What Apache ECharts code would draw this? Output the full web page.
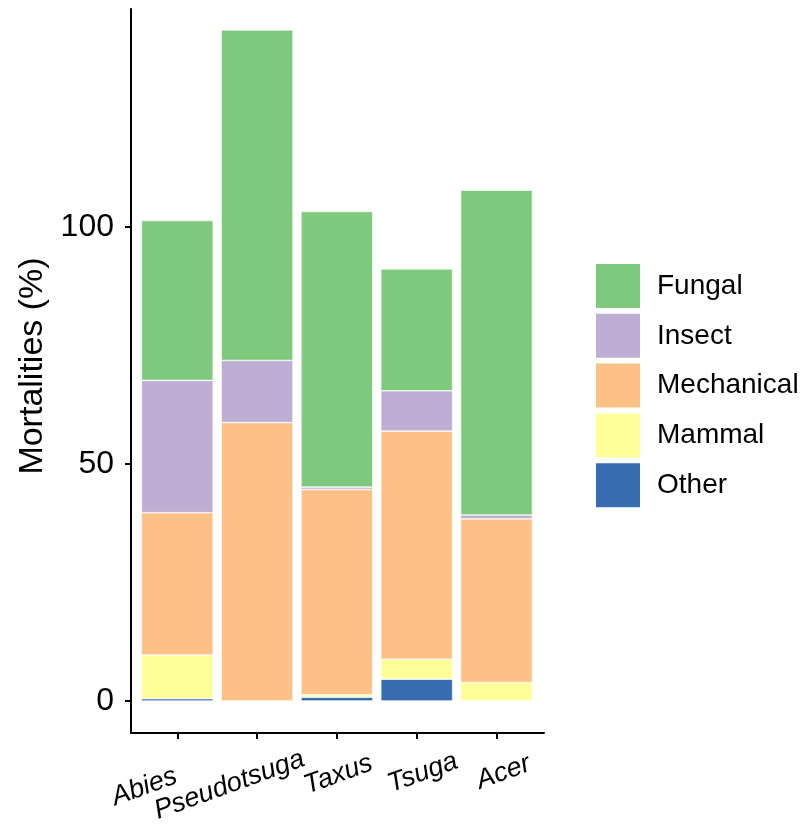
<!DOCTYPE html>
<html>
<head>
<meta charset="utf-8">
<script src="https://cdn.jsdelivr.net/npm/echarts@6/dist/echarts.min.js"></script>
<style>html,body{margin:0;padding:0;background:#fff}#c{width:806px;height:824px}</style>
</head>
<body>
<div id="c"></div>
<script>
// ---- data ----
var categories = ['Abies', 'Pseudotsuga', 'Taxus', 'Tsuga', 'Acer'];
var otherVals      = [0.5, 0,    0.8,  4.6,  0];
var mammalVals     = [9.2, 0,    0.5,  4.2,  3.9];
var mechanicalVals = [30.0, 58.7, 43.3, 48.1, 34.5];
var insectVals     = [27.9, 13.1, 0.5,  8.5,  0.8];
var fungalVals     = [33.7, 69.7, 58.1, 25.7, 68.5];
var yTicks = [0, 50, 100];
var legendOrder = ['Fungal', 'Insect', 'Mechanical', 'Mammal', 'Other'];

// ---- styling / layout ----
var colors = {Fungal:'#7FC97F', Insect:'#BEAED4', Mechanical:'#FDC086', Mammal:'#FFFF99', Other:'#386CB0'};
var FONT = 'Liberation Sans, Arial, sans-serif';
var YMIN = -6.75, YMAX = 145.9;
// per-label offsets (padding) to mimic the reference placement of the rotated labels
var labelPads = [[0, 70, 32, 0], [0, 59, 3, 0], [0, 0, 0, 3], [5, 0, 0, 13], [5, 0, 0, 15]];

var catData = categories.map(function (c, i) {
  return {value: c, textStyle: {align: 'center', verticalAlign: 'middle', padding: labelPads[i]}};
});

function mk(name, vals) {
  return {
    name: name, type: 'bar', stack: 'total', xAxisIndex: 1, yAxisIndex: 1,
    barWidth: '90%', data: vals,
    itemStyle: {color: colors[name], borderColor: '#ffffff', borderWidth: 0.6},
    emphasis: {disabled: true}
  };
}

var chart = echarts.init(document.getElementById('c'), null, {renderer: 'canvas'});
chart.setOption({
  animation: false,
  backgroundColor: '#ffffff',
  grid: [
    {left: 131, right: 262, top: 9, bottom: 91, outerBoundsMode: 'none', containLabel: false},
    {left: 137.4, width: 399, top: 9, bottom: 91, outerBoundsMode: 'none', containLabel: false}
  ],
  xAxis: [
    {gridIndex: 0, type: 'value', min: 0, max: 1,
     axisLine: {show: true, onZero: false, lineStyle: {color: '#000', width: 2}},
     axisTick: {show: false}, axisLabel: {show: false}, splitLine: {show: false}},
    {gridIndex: 1, type: 'category', data: catData,
     axisLine: {show: false, onZero: false},
     axisTick: {show: true, alignWithLabel: true, length: 6, lineStyle: {color: '#000', width: 2}},
     axisLabel: {rotate: 20, margin: 42, align: 'center', verticalAlign: 'middle',
                 fontSize: 27, fontStyle: 'italic', color: '#000', fontFamily: FONT, interval: 0},
     splitLine: {show: false}}
  ],
  yAxis: [
    {gridIndex: 0, type: 'value', min: YMIN, max: YMAX,
     name: 'Mortalities (%)', nameLocation: 'middle', nameGap: 80,
     nameTextStyle: {fontSize: 34, color: '#000', fontFamily: FONT, padding: [0, 0, 0, 10]},
     axisLine: {show: true, onZero: false, lineStyle: {color: '#000', width: 2}},
     axisTick: {show: true, length: 6, customValues: yTicks, lineStyle: {color: '#000', width: 2}},
     axisLabel: {customValues: yTicks, margin: 17, fontSize: 32, color: '#000', fontFamily: FONT},
     splitLine: {show: false}},
    {gridIndex: 1, type: 'value', min: YMIN, max: YMAX, show: false, splitLine: {show: false}}
  ],
  legend: {
    data: legendOrder, orient: 'vertical', left: 589, top: 257,
    itemWidth: 46, itemHeight: 46, itemGap: 1.8, icon: 'rect',
    textStyle: {fontSize: 28, color: '#000', fontFamily: FONT, padding: [0, 0, 0, 11]},
    selectedMode: false
  },
  series: [
    mk('Other', otherVals),
    mk('Mammal', mammalVals),
    mk('Mechanical', mechanicalVals),
    mk('Insect', insectVals),
    mk('Fungal', fungalVals)
  ]
});
</script>
</body>
</html>
